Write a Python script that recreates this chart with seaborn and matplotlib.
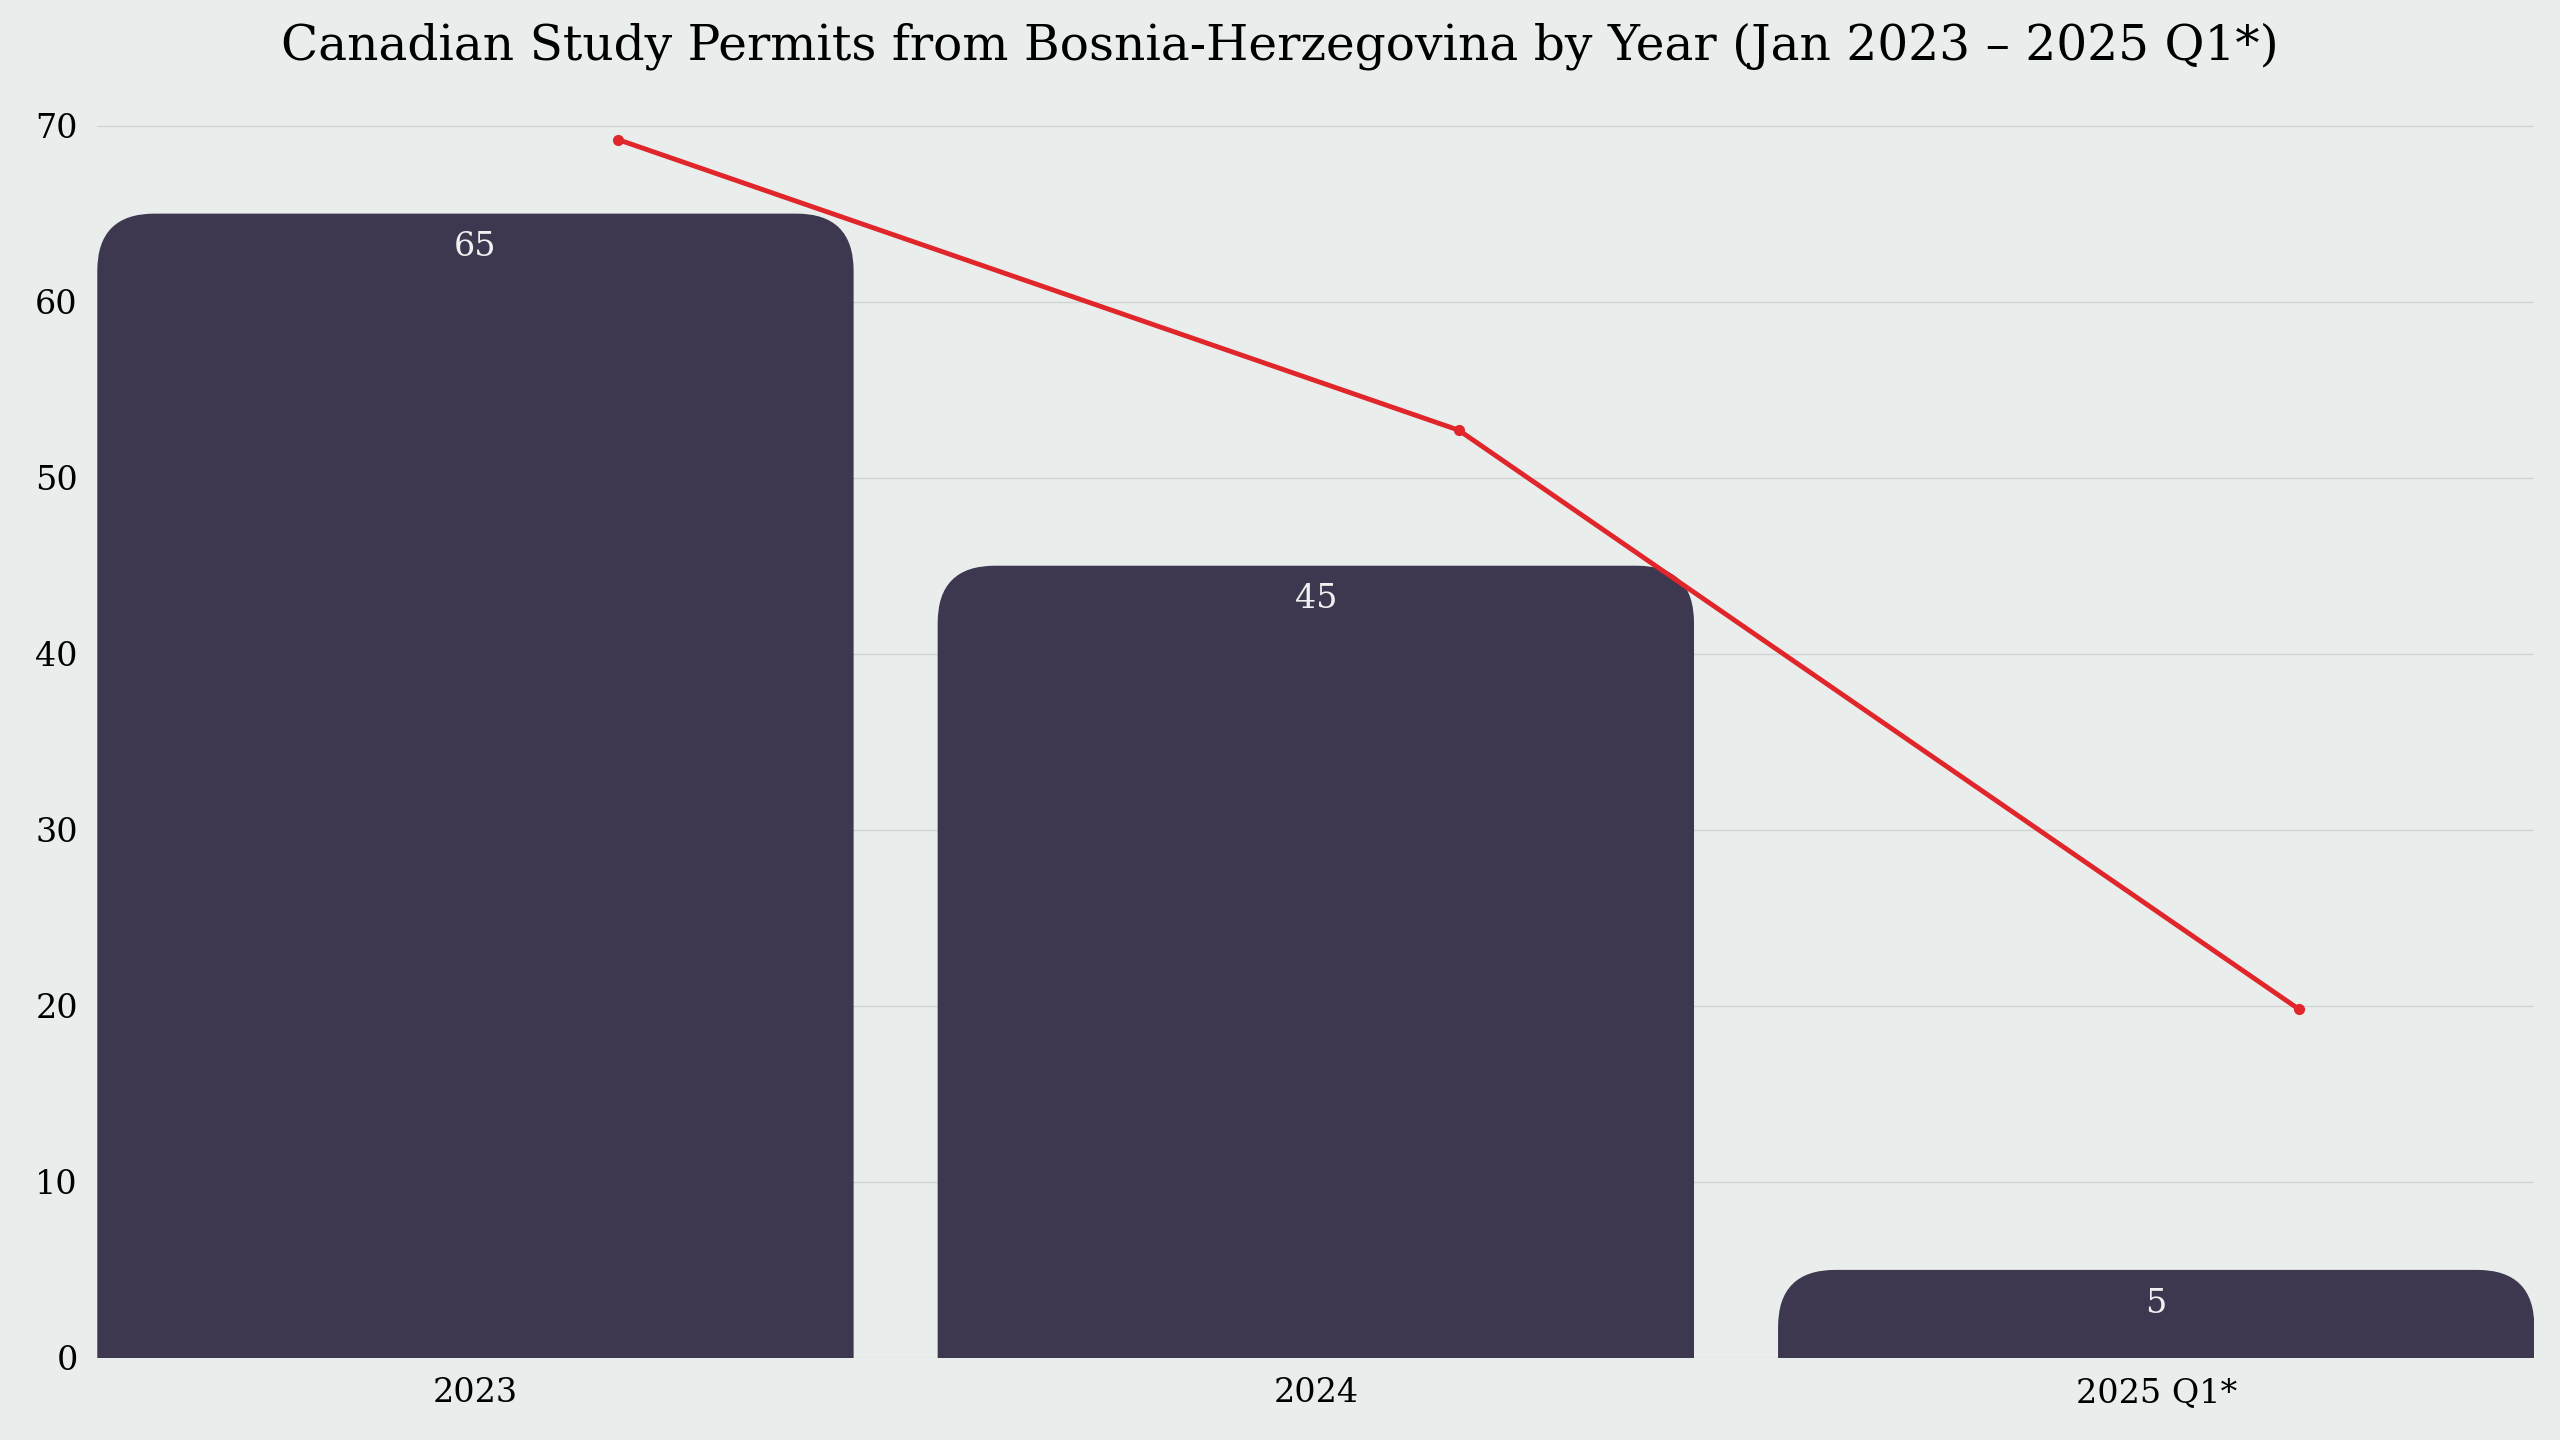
import matplotlib
matplotlib.use("Agg")
import matplotlib.pyplot as plt
import seaborn as sns
import pandas as pd
from matplotlib.patches import FancyBboxPatch

categories = ["2023", "2024", "2025 Q1*"]
permits = [65, 45, 5]
trend = [69.2, 52.7, 19.8]

BG = "#e9edeb"
BAR = "#3d384f"
RED = "#e0252b"
plt.rcParams["font.family"] = "DejaVu Serif"

fig = plt.figure(figsize=(25.6, 14.4), dpi=100, facecolor=BG)
ax = fig.add_axes([0.038, 0.057, 0.952, 0.868])
ax.set_facecolor(BG)
df = pd.DataFrame({"cat": categories, "v": permits})
sns.barplot(data=df, x="cat", y="v", color=BAR, width=0.9, ax=ax, saturation=1)

ax.set_xlim(-0.45, 2.45)
ax.set_ylim(0, 71)
r = 0.068
asp = 3.25 / r
for p in list(ax.patches):
    x, w, h = p.get_x(), p.get_width(), p.get_height()
    p.remove()
    fb = FancyBboxPatch((x, -5), w, h + 5, boxstyle=f"round,pad=0,rounding_size={r}",
                        mutation_aspect=asp, facecolor=BAR, edgecolor="none", zorder=2)
    ax.add_patch(fb)
    ax.text(x + w / 2, h - 1.0, f"{int(h)}", ha="center", va="top", color="#f0f0f0",
            fontsize=24, zorder=4)

ax.plot([i + 0.17 for i in range(3)], trend, color=RED, lw=3.5, marker="o", ms=7, zorder=5)

ax.set_yticks(range(0, 71, 10))
ax.grid(axis="y", color="#d0d4d2", lw=1)
ax.set_axisbelow(True)
for s in ax.spines.values():
    s.set_visible(False)
ax.tick_params(length=0, labelsize=24, pad=14)
ax.set_xlabel("")
ax.set_ylabel("")
fig.text(0.5, 0.968, "Canadian Study Permits from Bosnia-Herzegovina by Year (Jan 2023 – 2025 Q1*)",
         ha="center", va="center", fontsize=35)
fig.savefig("out.png", facecolor=BG)
